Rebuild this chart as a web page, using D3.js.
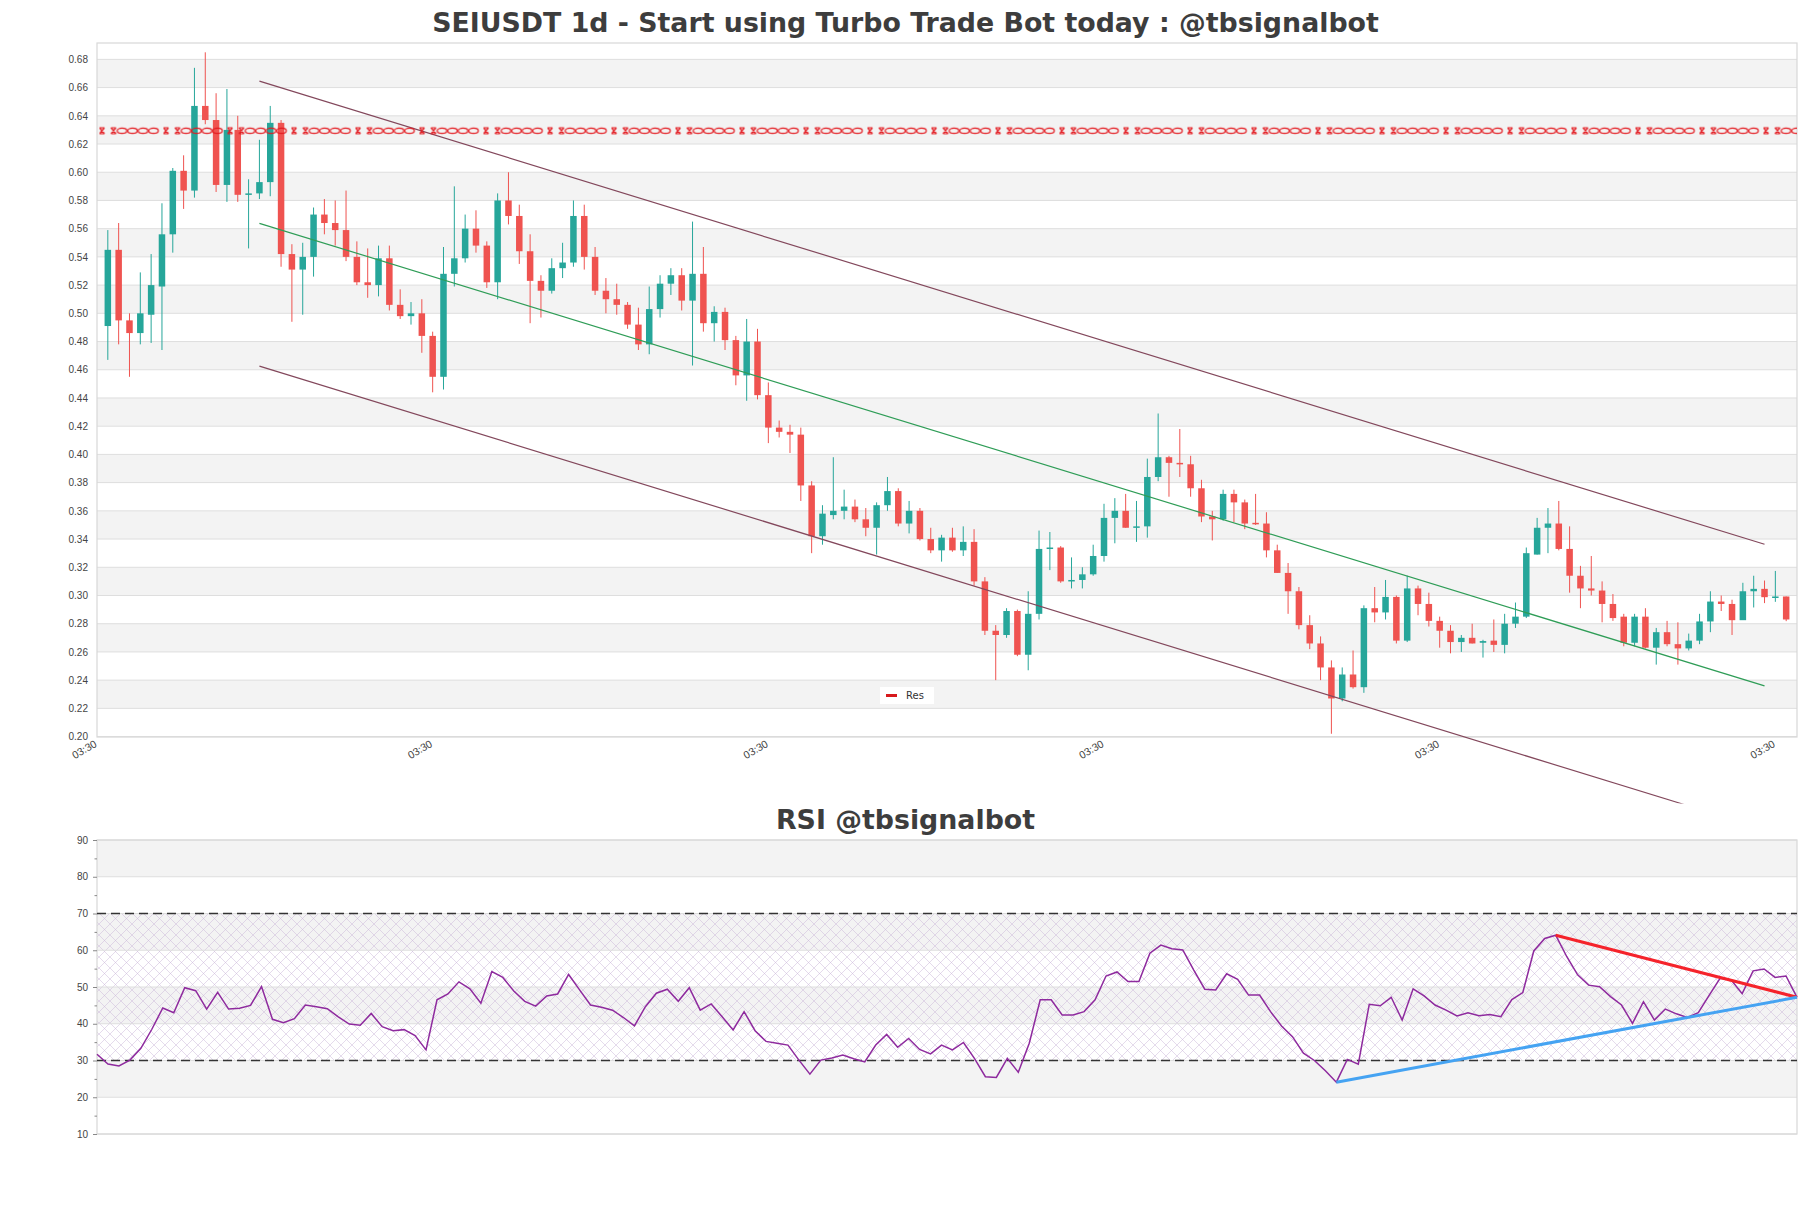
<!DOCTYPE html>
<html>
<head>
<meta charset="utf-8">
<script src="https://cdnjs.cloudflare.com/ajax/libs/d3/7.8.5/d3.min.js"></script>
<style>
  html, body { margin: 0; padding: 0; background: #fff; }
  svg { display: block; font-family: 'DejaVu Sans', sans-serif; }
</style>
</head>
<body>
<div id="chart"></div>
<script>
'use strict';

// daily OHLC, index 0 = first candle
var openP = [.491,.545,.495,.486,.499,.519,.556,.601,.587,.647,.637,.591,.630,.584,.585,.593,.635,.542,.531,.540,
  .570,.564,.559,.540,.522,.520,.539,.506,.498,.500,.484,.455,.528,.539,.560,.548,.522,.580,.569,.544,
  .523,.516,.532,.536,.569,.540,.516,.510,.506,.492,.478,.503,.521,.527,.509,.528,.493,.501,.481,.456,
  .480,.442,.419,.416,.414,.378,.342,.357,.360,.363,.354,.348,.364,.374,.351,.360,.340,.332,.341,.332,
  .338,.310,.275,.272,.289,.258,.287,.333,.334,.310,.311,.315,.328,.355,.360,.348,.349,.384,.398,.394,
  .393,.376,.356,.354,.372,.366,.3515,.351,.332,.316,.303,.279,.266,.249,.227,.244,.235,.291,.288,.299,
  .268,.305,.294,.282,.275,.267,.270,.2665,.268,.265,.280,.285,.329,.348,.351,.333,.314,.305,.3035,.294,
  .285,.2665,.285,.263,.274,.2655,.2625,.268,.2816,.2957,.294,.2825,.303,.3047,.2988,.2993];
var highP = [.559,.564,.500,.529,.542,.578,.603,.612,.674,.685,.656,.659,.640,.595,.623,.647,.637,.549,.550,.575,
  .581,.580,.587,.551,.546,.548,.548,.517,.508,.510,.487,.547,.590,.570,.573,.551,.585,.600,.577,.556,
  .527,.539,.550,.580,.577,.547,.525,.521,.508,.504,.519,.527,.532,.532,.565,.547,.505,.504,.484,.496,
  .489,.451,.424,.421,.419,.381,.364,.398,.375,.368,.362,.366,.384,.376,.367,.362,.348,.343,.348,.349,
  .347,.313,.279,.291,.290,.303,.346,.345,.335,.327,.320,.336,.365,.369,.372,.367,.397,.429,.399,.418,
  .399,.382,.360,.375,.375,.368,.372,.359,.336,.323,.306,.286,.271,.254,.249,.261,.293,.306,.311,.300,
  .314,.307,.302,.285,.279,.272,.280,.2686,.283,.287,.295,.334,.355,.362,.367,.349,.321,.328,.310,.301,
  .287,.287,.291,.277,.282,.281,.273,.287,.303,.300,.297,.309,.314,.3106,.3174,.2993];
var lowP = [.467,.478,.455,.478,.479,.474,.543,.574,.582,.634,.586,.579,.579,.546,.581,.583,.533,.494,.499,.526,
  .556,.548,.537,.520,.511,.512,.502,.496,.492,.472,.444,.446,.519,.536,.543,.518,.510,.563,.535,.493,
  .497,.514,.525,.533,.531,.513,.500,.499,.489,.474,.471,.497,.513,.502,.463,.487,.480,.474,.449,.438,
  .439,.408,.412,.401,.367,.330,.336,.354,.354,.352,.342,.329,.360,.349,.344,.339,.330,.324,.331,.328,
  .307,.272,.240,.270,.257,.247,.283,.318,.309,.305,.305,.314,.324,.337,.348,.338,.341,.381,.370,.384,
  .370,.352,.339,.353,.352,.347,.350,.327,.316,.287,.276,.262,.240,.202,.225,.234,.231,.281,.283,.266,
  .267,.286,.278,.263,.259,.260,.266,.256,.260,.259,.277,.284,.329,.330,.332,.302,.291,.300,.281,.282,
  .264,.264,.2625,.251,.264,.251,.261,.2655,.274,.289,.272,.283,.2915,.2946,.2955,.2818];
var closeP = [.545,.495,.486,.500,.520,.556,.601,.587,.647,.637,.591,.630,.584,.585,.593,.635,.542,.531,.540,.570,
  .564,.559,.540,.522,.520,.539,.506,.498,.500,.484,.455,.528,.539,.560,.548,.522,.580,.569,.544,.523,
  .516,.532,.536,.569,.540,.516,.510,.506,.492,.478,.503,.521,.527,.509,.528,.493,.501,.481,.456,.480,
  .442,.419,.416,.414,.378,.342,.358,.360,.363,.354,.348,.364,.374,.351,.360,.340,.332,.341,.332,.338,
  .310,.275,.272,.289,.258,.287,.333,.334,.310,.311,.315,.328,.355,.360,.348,.349,.384,.398,.394,.393,
  .376,.356,.354,.372,.366,.351,.3505,.332,.316,.303,.279,.266,.249,.227,.244,.235,.291,.288,.299,.268,
  .305,.294,.282,.275,.267,.270,.266,.2677,.265,.280,.285,.330,.348,.351,.333,.314,.305,.3035,.294,.284,
  .2665,.285,.263,.274,.2655,.2625,.268,.2816,.2957,.294,.2825,.303,.3047,.2988,.2993,.283];

// RSI(14), one value per day
var rsiVals = [31.7,29.05,28.5,30.1,33.3,38.5,44.3,43.0,49.8,49.0,44.0,48.55,44.0,44.2,45.0,50.1,41.2,40.3,41.4,45.1,
  44.65,44.1,41.9,39.9,39.6,42.8,39.2,38.1,38.4,36.8,32.9,46.5,48.1,51.4,49.5,45.6,54.2,52.6,48.9,46.1,
  44.8,47.55,48.1,53.4,49.2,45.1,44.5,43.7,41.7,39.4,44.65,48.3,49.4,46.1,49.8,43.7,45.4,41.9,38.3,43.3,
  38.1,35.2,34.7,34.2,30.1,26.3,30.1,30.7,31.5,30.5,29.6,34.2,37.1,33.6,
  36.0,33.0,31.8,34.2,32.9,34.9,30.6,25.6,25.4,30.6,26.8,34.7,46.5,46.5,42.4,42.4,43.3,46.5,53.0,54.1,
  51.5,51.5,59.2,61.4,60.4,60.1,54.6,49.4,49.2,53.6,52.1,47.8,47.8,43.3,39.4,36.5,32.0,30.0,27.2,24.1,
  30.3,29.0,45.3,44.9,47.2,41.0,49.5,47.6,45.1,43.7,42.1,43.0,42.2,42.5,41.9,46.6,48.5,59.8,63.2,64.1,
  58.3,53.3,50.5,50.1,47.4,45.1,40.1,46.0,41.0,44.0,42.7,41.7,43.0,47.8,52.4,51.9,48.2,54.4,54.9,52.6,
  53.0,47.2];

// tick values and labels
var priceTicks = [0.20,0.22,0.24,0.26,0.28,0.30,0.32,0.34,0.36,0.38,0.40,0.42,0.44,0.46,0.48,0.50,0.52,0.54,0.56,0.58,0.60,0.62,0.64,0.66,0.68];
var priceBands = [0.22,0.26,0.30,0.34,0.38,0.42,0.46,0.50,0.54,0.58,0.62,0.66];
var xTickIdx = [-1, 30, 61, 92, 123, 154];
var xTickLabels = ['03:30', '03:30', '03:30', '03:30', '03:30', '03:30'];
var rsiTicks = [10, 20, 30, 40, 50, 60, 70, 80, 90];
var rsiMinor = [15, 25, 35, 45, 55, 65, 75, 85];
var rsiBands = [20, 40, 60, 80];
var rsiLevels = [30, 70];

// channel lines [dayIndex, price]
var channelUpper = [[14, 0.6646], [153, 0.3363]];
var channelMid = [[14, 0.5638], [153, 0.2359]];
var channelLower = [[14, 0.4626], [153, 0.1343]];
var resLevel = 0.6294;

// rsi trend lines [dayIndex, rsi]
var rsiDownTrend = [[133, 64.1], [155, 47.2]];
var rsiUpTrend = [[113, 24.1], [155, 47.2]];

var W = 1811, H = 1208;
var box = {left: 97, right: 1797, top: 43, bottom: 737};
var rbox = {left: 97, right: 1797, top: 840, bottom: 1134};

var GREEN = '#26a69a', RED = '#ef5350';

var svg = d3.select('#chart').append('svg')
    .attr('width', W)
    .attr('height', H);

var defs = svg.append('defs');

//hatch for rsi 30-70 zone
var hatch = defs.append('pattern')
    .attr('id', 'rsiHatch')
    .attr('patternUnits', 'userSpaceOnUse')
    .attr('width', 11)
    .attr('height', 11);
hatch.append('path')
    .attr('d', 'M0,0 L11,11 M11,0 L0,11')
    .attr('stroke', '#c9b4d8')
    .attr('stroke-width', 0.6)
    .attr('fill', 'none')
    .attr('opacity', 0.8);

var x = d3.scaleLinear().domain([-1, 156]).range([box.left, box.right]);
var y = d3.scaleLinear().domain([0.1997, 0.6916]).range([box.bottom, box.top]);

//odd marker chain used by the Res line
var resPat = defs.append('pattern')
    .attr('id', 'resPattern')
    .attr('patternUnits', 'userSpaceOnUse')
    .attr('x', 99.5)
    .attr('y', y(resLevel) - 4)
    .attr('width', 64)
    .attr('height', 8);
[0, 11.5].forEach(function (hx) {
    resPat.append('path')
        .attr('d', 'M' + hx + ',1 h5 M' + hx + ',7 h5 M' + hx + ',1 L' + (hx + 5) + ',7 M' + (hx + 5) + ',1 L' + hx + ',7')
        .attr('stroke', '#e3161c')
        .attr('stroke-width', 1.2)
        .attr('fill', 'none');
});
[22.5, 33, 43.5, 54].forEach(function (cx) {
    resPat.append('ellipse')
        .attr('cx', cx)
        .attr('cy', 4)
        .attr('rx', 4.8)
        .attr('ry', 2.6)
        .attr('stroke', '#e3161c')
        .attr('stroke-width', 1.2)
        .attr('fill', 'none');
});

var main = svg.append('g');

//title
svg.append('text')
    .attr('x', W / 2)
    .attr('y', 32)
    .attr('text-anchor', 'middle')
    .style('font-size', '26.8px')
    .style('font-weight', 'bold')
    .style('fill', '#3d3d3d')
    .text('SEIUSDT 1d - Start using Turbo Trade Bot today : @tbsignalbot');

//alternating bands
main.selectAll('.band').data(priceBands).enter().append('rect')
    .attr('class', 'band')
    .attr('x', box.left)
    .attr('width', box.right - box.left)
    .attr('y', function (d) { return y(d + 0.02); })
    .attr('height', function (d) { return y(d) - y(d + 0.02); })
    .style('fill', '#f3f3f3');

main.selectAll('.grid').data(priceTicks).enter().append('line')
    .attr('class', 'grid')
    .attr('x1', box.left)
    .attr('x2', box.right)
    .attr('y1', function (d) { return y(d); })
    .attr('y2', function (d) { return y(d); })
    .style('stroke', '#dedede')
    .style('stroke-width', 1);

main.append('rect')
    .attr('x', box.left)
    .attr('y', box.top)
    .attr('width', box.right - box.left)
    .attr('height', box.bottom - box.top)
    .style('fill', 'none')
    .style('stroke', '#d8d8d8')
    .style('stroke-width', 1.2);

//y axis
var yAxis = main.append('g')
    .attr('transform', 'translate(' + box.left + ',0)')
    .call(d3.axisLeft(y).tickValues(priceTicks).tickFormat(d3.format('.2f')).tickSize(0).tickPadding(9));
yAxis.select('.domain').remove();
yAxis.selectAll('text').style('font-size', '10px').style('fill', '#444');

//x axis
var xAxis = main.append('g')
    .attr('transform', 'translate(0,' + box.bottom + ')')
    .call(d3.axisBottom(x).tickValues(xTickIdx).tickFormat(function (d, i) { return xTickLabels[i]; }).tickSize(0));
xAxis.select('.domain').remove();
xAxis.selectAll('text')
    .attr('x', 0)
    .attr('y', 0)
    .attr('dy', 0)
    .attr('transform', 'translate(0,9) rotate(-30)')
    .style('text-anchor', 'end')
    .style('font-size', '10.5px')
    .style('fill', '#444');

//candles
var candles = openP.map(function (o, i) {
    return {i: i, o: o, h: highP[i], l: lowP[i], c: closeP[i]};
});
var bodyW = 6.5;

main.selectAll('.wick').data(candles).enter().append('line')
    .attr('class', 'wick')
    .attr('x1', function (d) { return x(d.i); })
    .attr('x2', function (d) { return x(d.i); })
    .attr('y1', function (d) { return y(d.h); })
    .attr('y2', function (d) { return y(d.l); })
    .style('stroke', function (d) { return d.c >= d.o ? GREEN : RED; })
    .style('stroke-width', 1);

main.selectAll('.body').data(candles).enter().append('rect')
    .attr('class', 'body')
    .attr('x', function (d) { return x(d.i) - bodyW / 2; })
    .attr('width', bodyW)
    .attr('y', function (d) { return y(Math.max(d.o, d.c)); })
    .attr('height', function (d) { return Math.max(1.5, Math.abs(y(d.o) - y(d.c))); })
    .style('fill', function (d) { return d.c >= d.o ? GREEN : RED; });

//channel
var line = d3.line()
    .x(function (d) { return x(d[0]); })
    .y(function (d) { return y(d[1]); });

[[channelUpper, '#83485c'], [channelMid, '#2f9d57'], [channelLower, '#83485c']].forEach(function (c) {
    main.append('path')
        .attr('d', line(c[0]))
        .style('fill', 'none')
        .style('stroke', c[1])
        .style('stroke-width', 1.2);
});

//resistance line
main.append('rect')
    .attr('x', box.left)
    .attr('width', box.right - box.left)
    .attr('y', y(resLevel) - 4)
    .attr('height', 8)
    .style('fill', 'url(#resPattern)');

//legend
var leg = main.append('g').attr('transform', 'translate(880,687)');
leg.append('rect')
    .attr('width', 54)
    .attr('height', 17)
    .style('fill', '#fff');
leg.append('line')
    .attr('x1', 6).attr('x2', 17)
    .attr('y1', 8.5).attr('y2', 8.5)
    .style('stroke', '#d7191c')
    .style('stroke-width', 3);
leg.append('text')
    .attr('x', 26)
    .attr('y', 8.5)
    .attr('dy', '0.35em')
    .style('font-size', '10px')
    .style('fill', '#333')
    .text('Res');

// ---------- RSI panel ----------
var rsi = svg.append('g');

//panel background hides the channel tail
rsi.append('rect')
    .attr('x', 0)
    .attr('y', 803.5)
    .attr('width', W)
    .attr('height', H - 803.5)
    .style('fill', '#fff');

rsi.append('text')
    .attr('x', W / 2)
    .attr('y', 829)
    .attr('text-anchor', 'middle')
    .style('font-size', '26.8px')
    .style('font-weight', 'bold')
    .style('fill', '#3d3d3d')
    .text('RSI @tbsignalbot');

var rx = d3.scaleLinear().domain([0, rsiVals.length - 1]).range([rbox.left, rbox.right]);
var ry = d3.scaleLinear().domain([10, 90]).range([rbox.bottom, rbox.top]);

rsi.selectAll('.rband').data(rsiBands).enter().append('rect')
    .attr('class', 'rband')
    .attr('x', rbox.left)
    .attr('width', rbox.right - rbox.left)
    .attr('y', function (d) { return ry(d + 10); })
    .attr('height', function (d) { return ry(d) - ry(d + 10); })
    .style('fill', '#f3f3f3');

rsi.append('rect')
    .attr('x', rbox.left)
    .attr('width', rbox.right - rbox.left)
    .attr('y', ry(rsiLevels[1]))
    .attr('height', ry(rsiLevels[0]) - ry(rsiLevels[1]))
    .style('fill', 'url(#rsiHatch)');

rsi.selectAll('.rgrid').data(rsiTicks).enter().append('line')
    .attr('class', 'rgrid')
    .attr('x1', rbox.left)
    .attr('x2', rbox.right)
    .attr('y1', function (d) { return ry(d); })
    .attr('y2', function (d) { return ry(d); })
    .style('stroke', '#dedede')
    .style('stroke-width', 1);

rsi.append('rect')
    .attr('x', rbox.left)
    .attr('y', rbox.top)
    .attr('width', rbox.right - rbox.left)
    .attr('height', rbox.bottom - rbox.top)
    .style('fill', 'none')
    .style('stroke', '#d8d8d8')
    .style('stroke-width', 1.2);

rsi.selectAll('.lvl').data(rsiLevels).enter().append('line')
    .attr('class', 'lvl')
    .attr('x1', rbox.left)
    .attr('x2', rbox.right)
    .attr('y1', function (d) { return ry(d); })
    .attr('y2', function (d) { return ry(d); })
    .style('stroke', '#333')
    .style('stroke-width', 1.3)
    .style('stroke-dasharray', '9,5');

var ryAxis = rsi.append('g')
    .attr('transform', 'translate(' + rbox.left + ',0)')
    .call(d3.axisLeft(ry).tickValues(rsiTicks).tickSize(4).tickPadding(5));
ryAxis.select('.domain').remove();
ryAxis.selectAll('line').style('stroke', '#888');
ryAxis.selectAll('text').style('font-size', '10px').style('fill', '#444');

var ryMinor = rsi.append('g')
    .attr('transform', 'translate(' + rbox.left + ',0)')
    .call(d3.axisLeft(ry).tickValues(rsiMinor).tickSize(2.5).tickFormat(''));
ryMinor.select('.domain').remove();
ryMinor.selectAll('line').style('stroke', '#888');

rsi.append('path')
    .datum(rsiVals)
    .attr('d', d3.line()
        .x(function (d, i) { return rx(i); })
        .y(function (d) { return ry(d); }))
    .style('fill', 'none')
    .style('stroke', '#8e2a9e')
    .style('stroke-width', 1.5);

var tline = d3.line()
    .x(function (d) { return rx(d[0]); })
    .y(function (d) { return ry(d[1]); });

rsi.append('path')
    .attr('d', tline(rsiDownTrend))
    .style('fill', 'none')
    .style('stroke', '#f5232b')
    .style('stroke-width', 3);

rsi.append('path')
    .attr('d', tline(rsiUpTrend))
    .style('fill', 'none')
    .style('stroke', '#45a3f2')
    .style('stroke-width', 3);
</script>
</body>
</html>
